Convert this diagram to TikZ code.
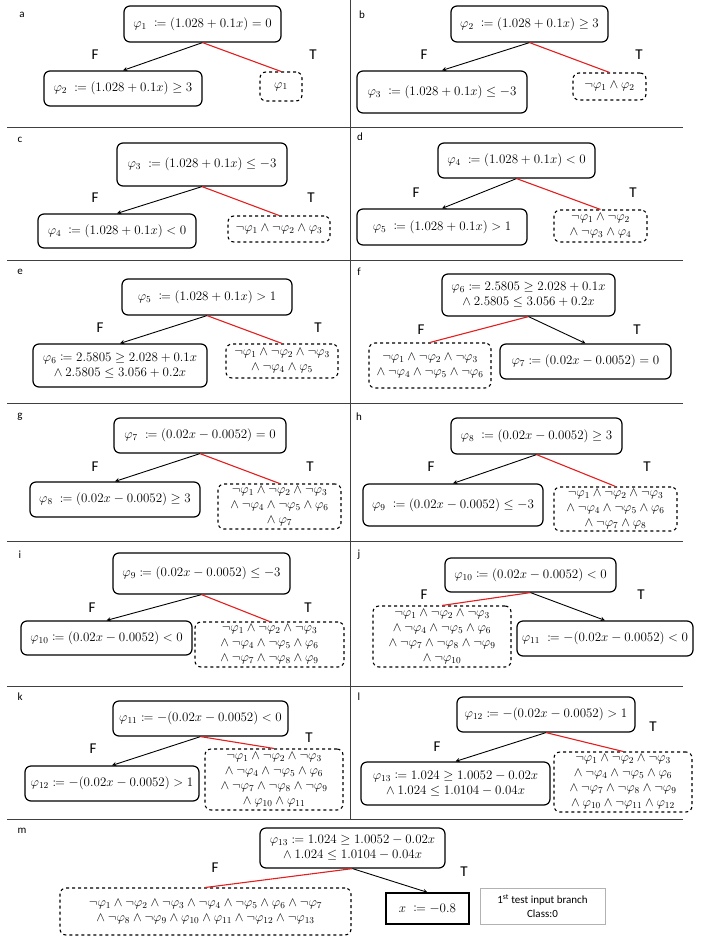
\RequirePackage{fix-cm}
\documentclass[tikz,border=0pt]{standalone}
\usepackage{amsmath}
\usepackage{mathtools}
\usepackage{fontspec}
\usepackage{xcolor}
\usetikzlibrary{arrows, positioning}
\newfontfamily\carlito{Carlito}
\definecolor{myred}{RGB}{228, 30, 30}
\newcommand{\andl}{\mathord{\wedge}\:}

\begin{document}
\begin{tikzpicture}[
    x=1pt, y=-1pt,
    every node/.style={font=\fontsize{13}{15}\selectfont},
    cond/.style={rectangle, rounded corners=6pt, draw=black, line width=1.2pt, align=center, inner sep=1pt},
    res/.style={rectangle, rounded corners=6pt, draw=black, dashed, line width=1.1pt, align=center, inner sep=1pt},
    arrow/.style={line width=0.9pt,->,>=stealth},
    tedge/.style={draw=myred, line width=1.1pt},
    lab/.style={font=\carlito\fontsize{15}{18}\selectfont},
    tag/.style={font=\carlito\fontsize{11}{13}\selectfont},
    sep/.style={draw=black!75, line width=0.9pt}
]
\useasboundingbox (0,0) rectangle (713,937);

% Panel separators
\foreach \yy in {127,260,403,541,686,819}
    \draw[sep] (7,\yy) -- (683,\yy);
\draw[sep] (350,0) -- (350,819);

% Panel a
\node[tag] (la) at (22,15) {a};
\node[cond, minimum width=157pt, minimum height=36pt] (a0) at (202.5,24) {$\varphi_1\;\coloneqq(1.028+0.1x)=0$};
\node[cond, minimum width=158pt, minimum height=35pt] (a1) at (123,88.5) {$\varphi_2\;\coloneqq(1.028+0.1x)\geq 3$};
\node[res, minimum width=42pt, minimum height=29pt] (a2) at (281,86.5) {$\varphi_1$};
\node[lab] (fa) at (95,55) {F};
\node[lab] (ta) at (313,55) {T};
\draw[arrow] (a0.south) -- (a1.north);
\draw[tedge] (a0.south) -- (a2.north);

% Panel b
\node[tag] (lb) at (362,15) {b};
\node[cond, minimum width=157pt, minimum height=36pt] (b0) at (529.5,24) {$\varphi_2\;\coloneqq(1.028+0.1x)\geq 3$};
\node[cond, minimum width=170pt, minimum height=42pt] (b1) at (442,92) {$\varphi_3\;\coloneqq(1.028+0.1x)\leq -3$};
\node[res, minimum width=73pt, minimum height=27pt] (b2) at (609.5,86.5) {$\neg\varphi_1\wedge\varphi_2$};
\node[lab] (fb) at (424,55) {F};
\node[lab] (tb) at (639,55) {T};
\draw[arrow] (b0.south) -- (b1.north);
\draw[tedge] (b0.south) -- (b2.north);

% Panel c
\node[tag] (lc) at (20,140) {c};
\node[cond, minimum width=170pt, minimum height=43pt] (c0) at (202,164.5) {$\varphi_3\;\coloneqq(1.028+0.1x)\leq -3$};
\node[cond, minimum width=158pt, minimum height=34pt] (c1) at (117,231) {$\varphi_4\;\coloneqq(1.028+0.1x)<0$};
\node[res, minimum width=102pt, minimum height=26pt] (c2) at (279,229) {$\neg\varphi_1\wedge\neg\varphi_2\wedge\varphi_3$};
\node[lab] (fc) at (95,198) {F};
\node[lab] (tc) at (311,198) {T};
\draw[arrow] (c0.south) -- (c1.north);
\draw[tedge] (c0.south) -- (c2.north);

% Panel d
\node[tag] (ld) at (360,137) {d};
\node[cond, minimum width=157pt, minimum height=35pt] (d0) at (516.5,160.5) {$\varphi_4\;\coloneqq(1.028+0.1x)<0$};
\node[cond, minimum width=170pt, minimum height=36pt] (d1) at (442,227) {$\varphi_5\;\coloneqq(1.028+0.1x)>1$};
\node[res, minimum width=93pt, minimum height=32pt] (d2) at (600.5,226) {$\neg\varphi_1\wedge\neg\varphi_2$\\$\andl\neg\varphi_3\wedge\varphi_4$};
\node[lab] (fd) at (416,193) {F};
\node[lab] (td) at (633,193) {T};
\draw[arrow] (d0.south) -- (d1.north);
\draw[tedge] (d0.south) -- (d2.north);

% Panel e
\node[tag] (le) at (20,272) {e};
\node[cond, minimum width=170pt, minimum height=36pt] (e0) at (207,297) {$\varphi_5\;\coloneqq(1.028+0.1x)>1$};
\node[cond, minimum width=174pt, minimum height=43pt] (e1) at (120,365.5) {$\varphi_6\coloneqq 2.5805\geq 2.028+0.1x$\\$\andl 2.5805\leq 3.056+0.2x$};
\node[res, minimum width=112pt, minimum height=34pt] (e2) at (282,361) {$\neg\varphi_1\wedge\neg\varphi_2\wedge\neg\varphi_3$\\$\andl\neg\varphi_4\wedge\varphi_5$};
\node[lab] (fe) at (100,328) {F};
\node[lab] (te) at (318,328) {T};
\draw[arrow] (e0.south) -- (e1.north);
\draw[tedge] (e0.south) -- (e2.north);

% Panel f
\node[tag] (lf) at (359,272) {f};
\node[cond, minimum width=173pt, minimum height=42pt] (f0) at (528.5,295) {$\varphi_6\coloneqq 2.5805\geq 2.028+0.1x$\\$\andl 2.5805\leq 3.056+0.2x$};
\node[res, minimum width=122pt, minimum height=45pt] (f1) at (430,365.5) {$\neg\varphi_1\wedge\neg\varphi_2\wedge\neg\varphi_3$\\$\andl\neg\varphi_4\wedge\neg\varphi_5\wedge\neg\varphi_6$};
\node[cond, minimum width=171pt, minimum height=35pt] (f2) at (585.5,361.5) {$\varphi_7\coloneqq(0.02x-0.0052)=0$};
\node[lab] (ff) at (421,330) {F};
\node[lab] (tf) at (637,330) {T};
\draw[tedge] (f0.south) -- (f1.north);
\draw[arrow] (f0.south) -- (f2.north);

% Panel g
\node[tag] (lg) at (20,417) {g};
\node[cond, minimum width=172pt, minimum height=35pt] (g0) at (200,435.5) {$\varphi_7\;\coloneqq(0.02x-0.0052)=0$};
\node[cond, minimum width=170pt, minimum height=35pt] (g1) at (115,499.5) {$\varphi_8\;\coloneqq(0.02x-0.0052)\geq 3$};
\node[res, minimum width=123pt, minimum height=45pt] (g2) at (279.5,506.5) {$\neg\varphi_1\wedge\neg\varphi_2\wedge\neg\varphi_3$\\$\andl\neg\varphi_4\wedge\neg\varphi_5\wedge\varphi_6$\\$\andl\varphi_7$};
\node[lab] (fg) at (95,467) {F};
\node[lab] (tg) at (310,467) {T};
\draw[arrow] (g0.south) -- (g1.north);
\draw[tedge] (g0.south) -- (g2.north);

% Panel h
\node[tag] (lh) at (359,417) {h};
\node[cond, minimum width=171pt, minimum height=36pt] (h0) at (536.5,436) {$\varphi_8\;\coloneqq(0.02x-0.0052)\geq 3$};
\node[cond, minimum width=180pt, minimum height=42pt] (h1) at (453,505) {$\varphi_9\;\coloneqq(0.02x-0.0052)\leq -3$};
\node[res, minimum width=123pt, minimum height=44pt] (h2) at (615.5,509) {$\neg\varphi_1\wedge\neg\varphi_2\wedge\neg\varphi_3$\\$\andl\neg\varphi_4\wedge\neg\varphi_5\wedge\varphi_6$\\$\andl\neg\varphi_7\wedge\varphi_8$};
\node[lab] (fh) at (431,467) {F};
\node[lab] (th) at (647,467) {T};
\draw[arrow] (h0.south) -- (h1.north);
\draw[tedge] (h0.south) -- (h2.north);

% Panel i
\node[tag] (li) at (20,555) {i};
\node[cond, minimum width=177pt, minimum height=41pt] (i0) at (201.5,573.5) {$\varphi_9\coloneqq(0.02x-0.0052)\leq -3$};
\node[cond, minimum width=171pt, minimum height=34pt] (i1) at (106.5,638) {$\varphi_{10}\coloneqq(0.02x-0.0052)<0$};
\node[res, minimum width=149pt, minimum height=45pt] (i2) at (269.5,644.5) {$\neg\varphi_1\wedge\neg\varphi_2\wedge\neg\varphi_3$\\$\andl\neg\varphi_4\wedge\neg\varphi_5\wedge\varphi_6$\\$\andl\neg\varphi_7\wedge\neg\varphi_8\wedge\varphi_9$};
\node[lab] (fi) at (92,608) {F};
\node[lab] (ti) at (308,608) {T};
\draw[arrow] (i0.south) -- (i1.north);
\draw[tedge] (i0.south) -- (i2.north);

% Panel j
\node[tag] (lj) at (359,555) {j};
\node[cond, minimum width=171pt, minimum height=34pt] (j0) at (530.5,575) {$\varphi_{10}\coloneqq(0.02x-0.0052)<0$};
\node[res, minimum width=138pt, minimum height=61pt] (j1) at (442,636.5) {$\neg\varphi_1\wedge\neg\varphi_2\wedge\neg\varphi_3$\\$\andl\neg\varphi_4\wedge\neg\varphi_5\wedge\varphi_6$\\$\andl\neg\varphi_7\wedge\neg\varphi_8\wedge\neg\varphi_9$\\$\andl\neg\varphi_{10}$};
\node[cond, minimum width=176pt, minimum height=35pt] (j2) at (605,638.5) {$\varphi_{11}\;\coloneqq-(0.02x-0.0052)<0$};
\node[lab] (fj) at (424,595) {F};
\node[lab] (tj) at (641,595) {T};
\draw[tedge] (j0.south) -- (j1.north);
\draw[arrow] (j0.south) -- (j2.north);

% Panel k
\node[tag] (lk) at (20,697) {k};
\node[cond, minimum width=175pt, minimum height=35pt] (k0) at (200.5,718.5) {$\varphi_{11}\coloneqq-(0.02x-0.0052)<0$};
\node[cond, minimum width=174pt, minimum height=35pt] (k1) at (112,783.5) {$\varphi_{12}\coloneqq-(0.02x-0.0052)>1$};
\node[res, minimum width=138pt, minimum height=61pt] (k2) at (274,779.5) {$\neg\varphi_1\wedge\neg\varphi_2\wedge\neg\varphi_3$\\$\andl\neg\varphi_4\wedge\neg\varphi_5\wedge\varphi_6$\\$\andl\neg\varphi_7\wedge\neg\varphi_8\wedge\neg\varphi_9$\\$\andl\varphi_{10}\wedge\varphi_{11}$};
\node[lab] (fk) at (93,749) {F};
\node[lab] (tk) at (309,738) {T};
\draw[arrow] (k0.south) -- (k1.north);
\draw[tedge] (k0.south) -- (k2.north);

% Panel l
\node[tag] (ll) at (359,697) {l};
\node[cond, minimum width=178pt, minimum height=35pt] (l0) at (546,714.5) {$\varphi_{12}\coloneqq-(0.02x-0.0052)>1$};
\node[cond, minimum width=189pt, minimum height=43pt] (l1) at (455.5,783.5) {$\varphi_{13}\coloneqq 1.024\geq 1.0052-0.02x$\\$\andl 1.024\leq 1.0104-0.04x$};
\node[res, minimum width=138pt, minimum height=60pt] (l2) at (623,782) {$\neg\varphi_1\wedge\neg\varphi_2\wedge\neg\varphi_3$\\$\andl\neg\varphi_4\wedge\neg\varphi_5\wedge\varphi_6$\\$\andl\neg\varphi_7\wedge\neg\varphi_8\wedge\neg\varphi_9$\\$\andl\varphi_{10}\wedge\neg\varphi_{11}\wedge\varphi_{12}$};
\node[lab] (fl) at (437,747) {F};
\node[lab] (tl) at (653,727) {T};
\draw[arrow] (l0.south) -- (l1.north);
\draw[tedge] (l0.south) -- (l2.north);

% Panel m
\node[tag] (lm) at (22,831) {m};
\node[cond, minimum width=185pt, minimum height=40pt] (m0) at (352.5,848) {$\varphi_{13}\coloneqq 1.024\geq 1.0052-0.02x$\\$\andl 1.024\leq 1.0104-0.04x$};
\node[res, minimum width=291pt, minimum height=47pt] (m1) at (205.5,911.5) {$\neg\varphi_1\wedge\neg\varphi_2\wedge\neg\varphi_3\wedge\neg\varphi_4\wedge\neg\varphi_5\wedge\varphi_6\wedge\neg\varphi_7$\\$\andl\neg\varphi_8\wedge\neg\varphi_9\wedge\varphi_{10}\wedge\varphi_{11}\wedge\neg\varphi_{12}\wedge\neg\varphi_{13}$};
\node[rectangle, draw=black, line width=1.3pt, minimum width=83pt, minimum height=31pt] (m2) at (427.5,908.5) {$x\;\coloneqq-0.8$};
\node[rectangle, draw=gray!60, line width=0.8pt, minimum width=125pt, minimum height=36pt, align=center, font=\carlito\fontsize{11}{14}\selectfont] (note) at (542.5,906) {1\textsuperscript{st} test input branch\\Class:0};
\node[lab] (fm) at (215,868) {F};
\node[lab] (tm) at (464,872) {T};
\draw[tedge] (m0.south) -- (m1.north);
\draw[arrow] (m0.south) -- (m2.north);

\end{tikzpicture}
\end{document}
